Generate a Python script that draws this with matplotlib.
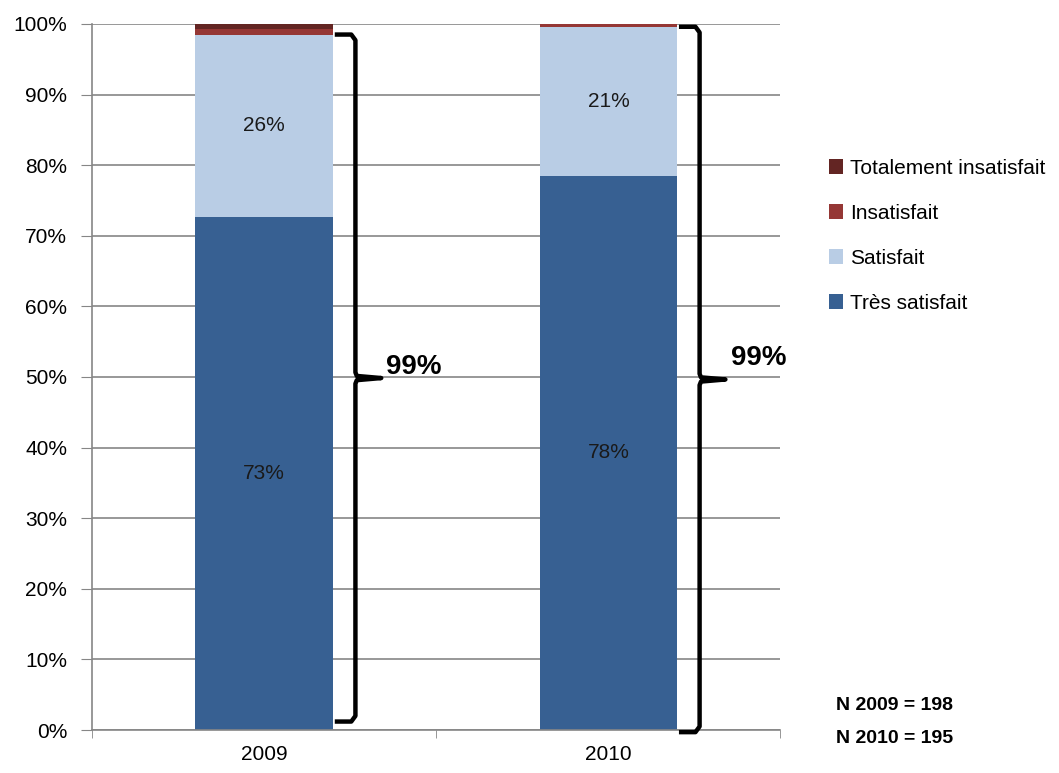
import matplotlib.pyplot as plt
import numpy as np
from matplotlib.patches import Patch

plt.rcParams['font.family'] = ['Liberation Sans Narrow', 'Liberation Sans', 'DejaVu Sans']

years = ["2009", "2010"]
tres_satisfait = [72.7, 78.5]
satisfait = [25.8, 21.1]
insatisfait = [0.8, 0.4]
totalement_insatisfait = [0.7, 0.0]
total_satisfaits = ["99%", "99%"]
effectifs = ["N 2009 = 198", "N 2010 = 195"]

series = [
    ("Très satisfait", tres_satisfait, "#376092"),
    ("Satisfait", satisfait, "#B9CDE5"),
    ("Insatisfait", insatisfait, "#953735"),
    ("Totalement insatisfait", totalement_insatisfait, "#632523"),
]

fig = plt.figure(figsize=(10.59, 7.73), dpi=100)
ax = fig.add_axes([0.087, 0.0556, 0.650, 0.9134])

x = np.arange(len(years))
bottom = np.zeros(len(years))
for name, vals, col in series:
    ax.bar(x, vals, width=0.4, bottom=bottom, color=col, zorder=3)
    if name in ("Très satisfait", "Satisfait"):
        for i, v in enumerate(vals):
            ax.text(x[i], bottom[i] + v / 2, f"{v:.0f}%", ha="center", va="center",
                    fontsize=15, color="#1a1a1a", zorder=4)
    bottom += np.array(vals)

ax.set_xlim(-0.5, 1.5)
ax.set_ylim(0, 100)
ax.set_yticks(np.arange(0, 101, 10))
ax.set_yticklabels([f"{t}%" for t in range(0, 101, 10)], fontsize=15)
ax.set_xticks(x)
ax.set_xticklabels(years, fontsize=15)
ax.set_xticks([-0.5, 0.5, 1.5], minor=True)
ax.tick_params(axis="x", which="major", length=0, pad=11)
ax.tick_params(axis="x", which="minor", length=6, color="#868686")
ax.tick_params(axis="y", length=8, color="#868686", pad=10)
ax.yaxis.grid(True, color="#868686", linewidth=1.2, zorder=0)
for s in ("top", "right"):
    ax.spines[s].set_visible(False)
for s in ("left", "bottom"):
    ax.spines[s].set_color("#868686")
    ax.spines[s].set_linewidth(1.2)
    ax.spines[s].set_zorder(5)


# accolades "}" a droite de chaque barre
def brace(ax, xc, y0, y1, label, text_dy):
    xb = xc + 0.2
    xs = xb + 0.065
    xt = xs + 0.075
    ym = (y0 + y1) / 2
    h = 0.012
    c = 0.8
    xs_pts = [xb + 0.005, xs - h, xs, xs, xs + 0.004, xt, xs + 0.004, xs, xs, xs - h, xb + 0.005]
    ys_pts = [y1, y1, y1 - c, ym + c, ym + 0.3, ym, ym - 0.3, ym - c, y0 + c, y0, y0]
    ax.plot(xs_pts, ys_pts, color="black", lw=3.2, solid_joinstyle="round",
            solid_capstyle="butt", clip_on=False, zorder=6)
    ax.text(xt + 0.015, ym + text_dy, label, fontsize=20, fontweight="bold",
            ha="left", va="center", zorder=6)


sat_tops = np.array(tres_satisfait) + np.array(satisfait)
brace(ax, x[0], 1.2, sat_tops[0], total_satisfaits[0], 1.5)
brace(ax, x[1], -0.3, sat_tops[1], total_satisfaits[1], 3.0)

handles = [Patch(facecolor=col, label=name) for name, vals, col in series][::-1]
fig.legend(handles=handles, loc="upper left", bbox_to_anchor=(0.765, 0.819),
           frameon=False, fontsize=15, handlelength=0.7, handleheight=0.7,
           handletextpad=0.3, labelspacing=1.25)

fig.text(0.789, 0.087, effectifs[0], fontsize=14, fontweight="bold", va="center")
fig.text(0.789, 0.044, effectifs[1], fontsize=14, fontweight="bold", va="center")

fig.savefig("out.png", dpi=100)
